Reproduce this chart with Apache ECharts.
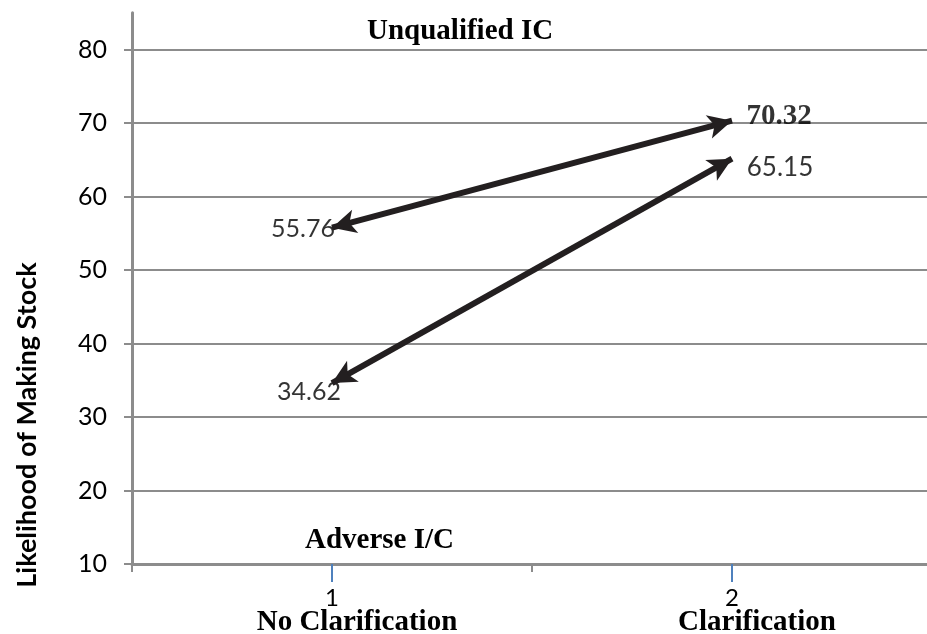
<!DOCTYPE html>
<html>
<head>
<meta charset="utf-8">
<script src="https://cdn.jsdelivr.net/npm/echarts@6/dist/echarts.min.js"></script>
<style>
  html, body { margin: 0; padding: 0; background: #fff; }
  #chart { width: 927px; height: 634px; }
</style>
</head>
<body>
<div id="chart"></div>
<script>
// data
const categories = ["1", "2"];
const categoryNames = ["No Clarification", "Clarification"];
const unqualified = [55.76, 70.32];
const adverse = [34.62, 65.15];
const yTicks = [10, 20, 30, 40, 50, 60, 70, 80];

const chart = echarts.init(document.getElementById("chart"));

const sans = "Lato";
const serif = "Liberation Serif";
const lineColor = "#231f20";
const gray = "#8c8c8c";

function arrowLine(vals) {
  return [[
    { coord: [categories[0], vals[0]] },
    { coord: [categories[1], vals[1]] }
  ]];
}

// label offsets around each point
const labelPoints = [
  { value: [categories[0], unqualified[0]], offset: [-29, 1], font: sans, weight: "normal", size: 25 },
  { value: [categories[1], unqualified[1]], offset: [47, -4], font: serif, weight: "bold", size: 29 },
  { value: [categories[0], adverse[0]], offset: [-23, 9], font: sans, weight: "normal", size: 25 },
  { value: [categories[1], adverse[1]], offset: [48, 9], font: sans, weight: "normal", size: 26 }
];

const option = {
  animation: false,
  backgroundColor: "#fff",
  grid: [
    { left: 132, right: -5, top: 49.5, bottom: 70, outerBoundsMode: "none" },
    { left: 132, right: -5, top: 12.75, bottom: 70, outerBoundsMode: "none" }
  ],
  xAxis: [
    {
      type: "category", data: categories, gridIndex: 0, boundaryGap: true,
      axisLine: { show: true, lineStyle: { color: gray, width: 3 } },
      axisTick: { show: true, alignWithLabel: false, length: 8, lineStyle: { color: gray, width: 2 } },
      axisLabel: { show: false },
      splitLine: { show: false }
    },
    {
      type: "category", data: categories, gridIndex: 0, boundaryGap: true, position: "bottom",
      axisLine: { show: false },
      axisTick: { show: true, alignWithLabel: true, length: 18, lineStyle: { color: "#4f81bd", width: 2 } },
      axisLabel: {
        show: true, margin: 23,
        formatter: function (v, i) { return "{n|" + v + "}\n{t|" + categoryNames[i] + "}"; },
        rich: {
          n: { fontFamily: sans, fontSize: 24, color: "#000", lineHeight: 22 },
          t: { fontFamily: serif, fontWeight: "bold", fontSize: 29, color: "#000", lineHeight: 28, padding: [0, 0, 0, 50] }
        }
      }
    },
    { type: "category", data: categories, gridIndex: 1, show: false }
  ],
  yAxis: [
    {
      type: "value", gridIndex: 0, min: 10, max: 80, interval: 10,
      axisLine: { show: false },
      axisTick: { show: true, length: 8, lineStyle: { color: gray, width: 2 } },
      axisLabel: {
        margin: 25, fontFamily: sans, fontSize: 25, color: "#000",
        formatter: function (v) { return yTicks.indexOf(v) >= 0 ? String(v) : ""; }
      },
      splitLine: { show: true, lineStyle: { color: gray, width: 2 } }
    },
    {
      type: "value", gridIndex: 1, min: 10, max: 85,
      axisLine: { show: true, lineStyle: { color: gray, width: 3 } },
      axisTick: { show: false }, axisLabel: { show: false }, splitLine: { show: false }
    }
  ],
  graphic: [
    {
      type: "text", left: 367, top: 17,
      style: { text: "Unqualified IC", fontFamily: serif, fontWeight: "bold", fontSize: 29, fill: "#000" }
    },
    {
      type: "text", left: 305, top: 526,
      style: { text: "Adverse I/C", fontFamily: serif, fontWeight: "bold", fontSize: 29, fill: "#000" }
    },
    {
      type: "text", x: 27, y: 425, rotation: Math.PI / 2,
      style: {
        text: "Likelihood of Making Stock", fontFamily: sans, fontWeight: "bold", fontSize: 27,
        fill: "#000", align: "center", verticalAlign: "middle"
      }
    }
  ],
  series: [
    {
      name: "Unqualified IC", type: "line", xAxisIndex: 0, yAxisIndex: 0,
      data: [], silent: true,
      markLine: {
        silent: true, symbol: ["arrow", "arrow"], symbolSize: [18, 24],
        lineStyle: { color: lineColor, width: 6, type: "solid" },
        label: { show: false },
        data: arrowLine(unqualified)
      }
    },
    {
      name: "Adverse I/C", type: "line", xAxisIndex: 0, yAxisIndex: 0,
      data: [], silent: true,
      markLine: {
        silent: true, symbol: ["arrow", "arrow"], symbolSize: [18, 24],
        lineStyle: { color: lineColor, width: 6, type: "solid" },
        label: { show: false },
        data: arrowLine(adverse)
      }
    },
    {
      type: "scatter", xAxisIndex: 0, yAxisIndex: 0, symbolSize: 0, silent: true,
      data: labelPoints.map(function (p) {
        return {
          value: p.value,
          label: {
            show: true, position: "inside", offset: p.offset,
            formatter: String(p.value[1]),
            fontFamily: p.font, fontWeight: p.weight, fontSize: p.size, color: "#000"
          }
        };
      })
    }
  ]
};

chart.setOption(option);
</script>
</body>
</html>
